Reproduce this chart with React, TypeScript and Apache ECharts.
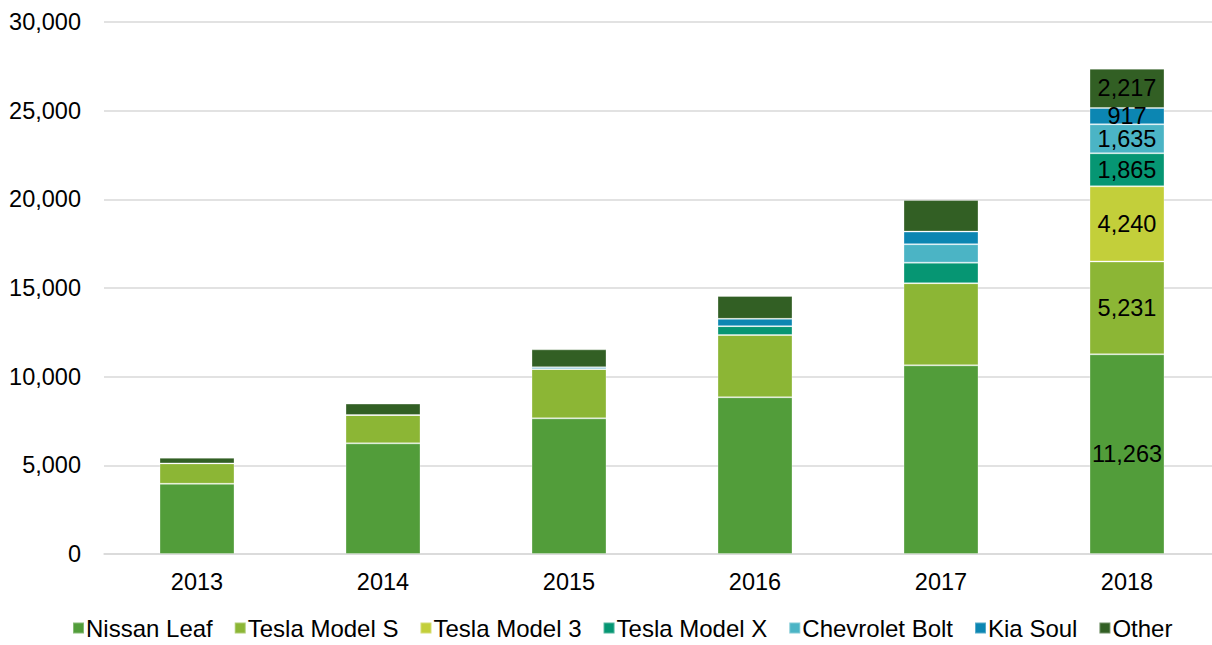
import React, { useEffect, useRef } from "react";
import * as echarts from "echarts";

const years = ["2013", "2014", "2015", "2016", "2017", "2018"];
const nissanLeaf = [3960, 6240, 7650, 8840, 10640, 11263];
const teslaModelS = [1150, 1600, 2780, 3510, 4630, 5231];
const teslaModel3 = [0, 0, 0, 0, 0, 4240];
const teslaModelX = [0, 0, 0, 500, 1160, 1865];
const chevroletBolt = [0, 0, 0, 0, 1040, 1635];
const kiaSoul = [0, 0, 100, 410, 710, 917];
const other = [320, 640, 1010, 1290, 1780, 2217];

const seriesDefs = [
  { name: "Nissan Leaf", data: nissanLeaf, color: "#529D3A" },
  { name: "Tesla Model S", data: teslaModelS, color: "#8CB635" },
  { name: "Tesla Model 3", data: teslaModel3, color: "#C3CF3A" },
  { name: "Tesla Model X", data: teslaModelX, color: "#069673" },
  { name: "Chevrolet Bolt", data: chevroletBolt, color: "#4BB4C5" },
  { name: "Kia Soul", data: kiaSoul, color: "#0C86B2" },
  { name: "Other", data: other, color: "#325F24" },
];

const FONT = "'Liberation Sans', Arial, sans-serif";
const fmt = (v: number) => Math.round(v).toLocaleString("en-US");

export default function App() {
  const ref = useRef<HTMLDivElement>(null);
  useEffect(() => {
    if (!ref.current) return;
    const chart = echarts.init(ref.current, null, { renderer: "svg" });
    chart.setOption({
      animation: false,
      textStyle: { fontFamily: FONT },
      grid: { left: 104, right: 0, top: 22, bottom: 91, containLabel: false },
      legend: {
        left: 67,
        bottom: 0,
        itemWidth: 11,
        itemHeight: 11,
        itemGap: 21,
        icon: "rect",
        textStyle: { fontFamily: FONT, fontSize: 24, color: "#000", padding: [0, 0, 0, -3] },
        data: seriesDefs.map((s) => s.name),
      },
      xAxis: {
        type: "category",
        data: years,
        axisLine: { lineStyle: { color: "#d9d9d9", width: 1.5 } },
        axisTick: { show: false },
        axisLabel: { color: "#000", fontSize: 23.5, fontFamily: FONT, margin: 16 },
      },
      yAxis: {
        type: "value",
        min: 0,
        max: 30000,
        interval: 5000,
        axisLine: { show: false },
        axisTick: { show: false },
        splitLine: { lineStyle: { color: "#d9d9d9", width: 1.5 } },
        axisLabel: { color: "#000", fontSize: 23.5, fontFamily: FONT, margin: 23, formatter: (v: number) => fmt(v) },
      },
      series: seriesDefs.map((s) => ({
        name: s.name,
        type: "bar",
        stack: "total",
        barWidth: 75,
        itemStyle: { color: s.color, borderColor: "rgba(255,255,255,0.3)", borderWidth: 1 },
        label: {
          show: false,
          position: "inside",
          color: "#000",
          fontSize: 23.5,
          fontFamily: FONT,
          formatter: (p: any) => fmt(p.value),
        },
        data: s.data.map((v, i) => (i === years.length - 1 ? { value: v, label: { show: true } } : v)),
      })),
    });
    return () => chart.dispose();
  }, []);
  return (
    <div style={{ position: "fixed", left: 0, top: 0, width: 1212, height: 645, overflow: "hidden", background: "#fff" }}>
      <div ref={ref} style={{ width: 1220, height: 645 }} />
    </div>
  );
}
